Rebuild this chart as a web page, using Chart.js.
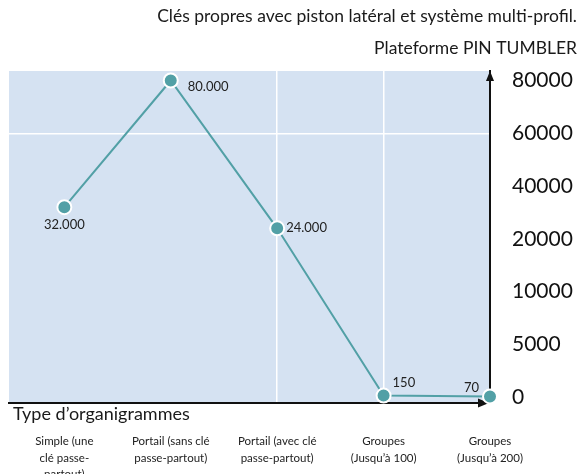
<!DOCTYPE html>
<html>
<head>
<meta charset="utf-8">
<script src="https://cdn.jsdelivr.net/npm/chart.js@4.4.1/dist/chart.umd.min.js"></script>
<style>
  html, body { margin: 0; padding: 0; background: #fff; }
  #wrap { width: 580px; height: 474px; position: relative; }
</style>
</head>
<body>
<div id="wrap"><canvas id="chart"></canvas></div>
<script>
const categories = [
  ['Simple (une', 'clé passe-', 'partout)'],
  ['Portail (sans clé', 'passe-partout)'],
  ['Portail (avec clé', 'passe-partout)'],
  ['Groupes', '(Jusqu’à 100)'],
  ['Groupes', '(Jusqu’à 200)']
];
const keyCounts = [32000, 80000, 24000, 150, 70];
const yTickValues = [0, 5000, 10000, 20000, 40000, 60000, 80000];
const titleLines = ['Clés propres avec piston latéral et système multi-profil.', 'Plateforme PIN TUMBLER'];
const axisTitle = 'Type d’organigrammes';

// where each value label sits relative to its point: [dx, dy, align]
const labelPlacement = [
  [0, 18, 'center'],
  [17, 6, 'left'],
  [9, 0, 'left'],
  [9, -13, 'left'],
  [-11, -9, 'right']
];

const FONT = 'Lato, "Open Sans", sans-serif';
const teal = '#52a0a6';

// y axis: each step between two ticks gets the same height
function toStep(v) {
  const t = yTickValues;
  if (v <= t[0]) return (v - t[0]) / (t[1] - t[0]);
  for (let i = 1; i < t.length; i++) {
    if (v <= t[i]) return i - 1 + (v - t[i - 1]) / (t[i] - t[i - 1]);
  }
  const n = t.length - 1;
  return n + (v - t[n]) / (t[n] - t[n - 1]);
}

class StepScale extends Chart.LinearScale {
  determineDataLimits() {
    this.min = -0.11;
    this.max = yTickValues.length - 1 + 0.18;
  }
  buildTicks() {
    return yTickValues.map(v => ({ value: v }));
  }
  getPixelForValue(value) {
    return value === null ? NaN : super.getPixelForValue(toStep(value));
  }
}
StepScale.id = 'step';
StepScale.defaults = {};
Chart.register(StepScale);

const areaBackground = {
  id: 'areaBackground',
  beforeDraw(chart) {
    const { ctx, chartArea: a } = chart;
    ctx.save();
    ctx.fillStyle = '#d5e2f2';
    ctx.fillRect(a.left, a.top, a.right - a.left, a.bottom - a.top);
    ctx.restore();
  }
};

const extras = {
  id: 'extras',
  beforeDatasetsDraw(chart) {
    const { ctx, chartArea: a } = chart;
    ctx.save();
    // arrows on the axes
    ctx.fillStyle = '#111';
    ctx.beginPath();
    ctx.moveTo(a.right, a.top);
    ctx.lineTo(a.right - 4, a.top + 10);
    ctx.lineTo(a.right + 4, a.top + 10);
    ctx.fill();
    ctx.beginPath();
    ctx.moveTo(a.right - 1, a.bottom);
    ctx.lineTo(a.right - 12, a.bottom - 4.5);
    ctx.lineTo(a.right - 12, a.bottom + 4.5);
    ctx.fill();
    // x axis title, sits between the axis line and the category labels
    ctx.font = '18px ' + FONT;
    ctx.fillStyle = '#1a1a1a';
    ctx.textAlign = 'left';
    ctx.textBaseline = 'middle';
    ctx.fillText(axisTitle, a.left + 4, a.bottom + 11);
    ctx.restore();
  },
  afterDatasetsDraw(chart) {
    const { ctx } = chart;
    ctx.save();
    // value labels
    ctx.font = '13px ' + FONT;
    ctx.fillStyle = '#222';
    ctx.textBaseline = 'middle';
    chart.getDatasetMeta(0).data.forEach((pt, i) => {
      const [dx, dy, align] = labelPlacement[i];
      ctx.textAlign = align;
      ctx.fillText(keyCounts[i].toLocaleString('de-DE'), pt.x + dx, pt.y + dy);
    });
    ctx.restore();
  }
};

new Chart(document.getElementById('chart'), {
  type: 'line',
  data: {
    datasets: [{
      data: keyCounts.map((v, i) => ({ x: i, y: v })),
      borderColor: teal,
      borderWidth: 2,
      pointBackgroundColor: teal,
      pointBorderColor: '#fff',
      pointBorderWidth: 2,
      pointRadius: 7,
      tension: 0,
      clip: false
    }]
  },
  options: {
    responsive: true,
    maintainAspectRatio: false,
    animation: false,
    layout: { padding: { left: 8, right: 3, top: 0, bottom: 0 } },
    plugins: {
      legend: { display: false },
      tooltip: { enabled: false },
      title: {
        display: true,
        text: titleLines,
        align: 'end',
        color: '#1a1a1a',
        font: { family: FONT, size: 17.5, weight: 'normal', lineHeight: 1.8 },
        padding: { top: 1, bottom: 7 }
      }
    },
    scales: {
      x: {
        type: 'linear',
        min: -0.52,
        max: 4,
        afterBuildTicks: s => { s.ticks = categories.map((c, i) => ({ value: i })); },
        afterFit: s => { s.height = 71; },
        ticks: {
          callback: v => categories[v],
          maxRotation: 0,
          autoSkip: false,
          padding: 30,
          color: '#222',
          font: { family: FONT, size: 11.5, lineHeight: 1.45 }
        },
        grid: {
          drawTicks: false,
          color: c => (c.index === 2 || c.index === 3) ? '#ffffff' : 'rgba(0,0,0,0)',
          lineWidth: 1.5
        },
        border: { color: '#111', width: 2 }
      },
      y: {
        type: 'step',
        position: 'right',
        afterFit: s => { s.width = 87; },
        ticks: {
          callback: v => String(v),
          padding: 22,
          color: '#111',
          font: { family: FONT, size: 21 }
        },
        grid: {
          drawTicks: false,
          color: c => c.tick && c.tick.value === 60000 ? '#ffffff' : 'rgba(0,0,0,0)',
          lineWidth: 1.5
        },
        border: { color: '#111', width: 2 }
      }
    }
  },
  plugins: [areaBackground, extras]
});
</script>
</body>
</html>
